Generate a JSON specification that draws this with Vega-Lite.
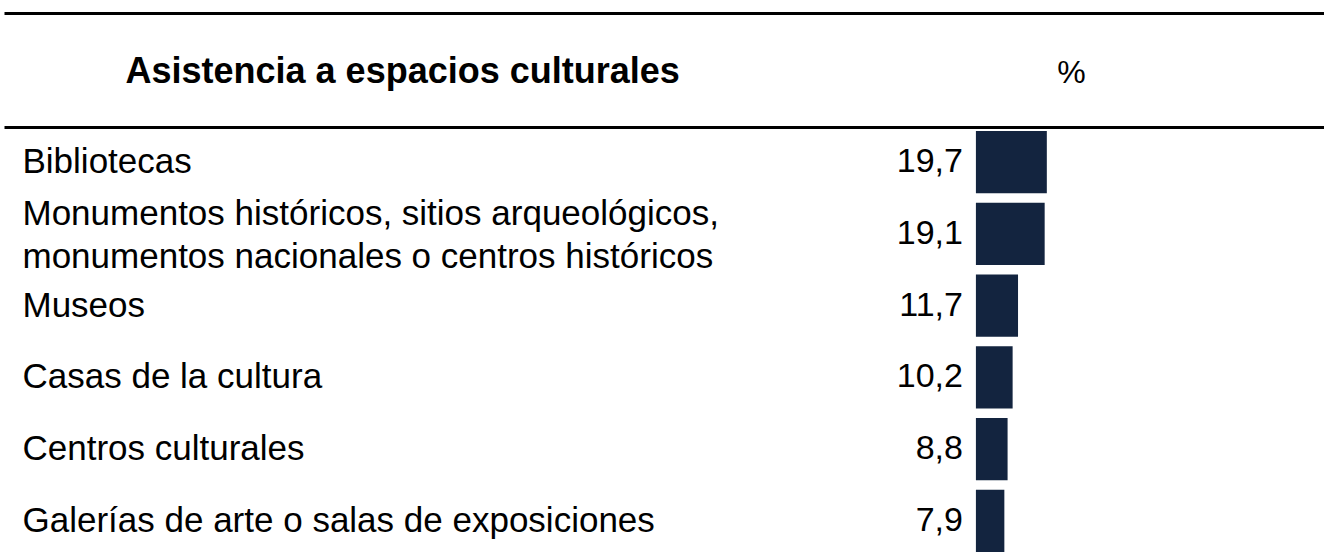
{
  "$schema": "https://vega.github.io/schema/vega-lite/v6.json",
  "width": 1320,
  "height": 425,
  "autosize": {"type": "none"},
  "padding": {"left": 4, "top": 127, "right": 0, "bottom": 0},
  "background": "white",
  "data": {
    "values": [
      {"cat": "Bibliotecas", "pct": 19.7},
      {"cat": "Monumentos históricos, sitios arqueológicos,\nmonumentos nacionales o centros históricos", "pct": 19.1},
      {"cat": "Museos", "pct": 11.7},
      {"cat": "Casas de la cultura", "pct": 10.2},
      {"cat": "Centros culturales", "pct": 8.8},
      {"cat": "Galerías de arte o salas de exposiciones", "pct": 7.9}
    ]
  },
  "layer": [
    {
      "mark": {"type": "bar", "color": "#13243f"},
      "encoding": {
        "y": {
          "field": "cat",
          "type": "nominal",
          "sort": null,
          "scale": {"paddingInner": 0.133, "paddingOuter": 0.028, "align": 1},
          "axis": {
            "title": null,
            "domain": false,
            "ticks": false,
            "tickSize": 0,
            "grid": false,
            "labelAlign": "left",
            "labelBaseline": "middle",
            "labelPadding": -18,
            "labelFont": "Liberation Sans",
            "labelFontSize": 35,
            "labelColor": "black",
            "labelLimit": 2000,
            "labelLineHeight": 43,
            "labelOverlap": false,
            "labelBound": false,
            "labelOffset": {"condition": {"test": "indexof(datum.value, '\\n') >= 0", "value": -20}, "value": 0},
            "labelExpr": "split(datum.label, '\\n')"
          }
        },
        "x": {
          "field": "pct",
          "type": "quantitative",
          "scale": {"domain": [-270, 96.7], "nice": false},
          "axis": {
            "orient": "top",
            "offset": 114,
            "labels": false,
            "ticks": false,
            "grid": false,
            "domain": true,
            "domainColor": "black",
            "domainWidth": 3,
            "title": "Asistencia a espacios culturales",
            "titleFont": "Liberation Sans",
            "titleFontSize": 36,
            "titleFontWeight": "bold",
            "titleColor": "black",
            "titleX": 121,
            "titleY": 69,
            "titleAlign": "left",
            "titleBaseline": "alphabetic",
            "titleAngle": 0
          }
        }
      }
    },
    {
      "mark": {"type": "text", "align": "right", "baseline": "middle", "dx": -13, "fontSize": 34, "font": "Liberation Sans", "color": "black"},
      "encoding": {
        "y": {"field": "cat", "type": "nominal", "sort": null},
        "x": {
          "datum": 0,
          "type": "quantitative",
          "scale": {"domain": [-270, 96.7], "nice": false},
          "axis": {
            "orient": "top",
            "labels": false,
            "ticks": false,
            "grid": false,
            "domain": true,
            "domainColor": "black",
            "domainWidth": 3,
            "title": "%",
            "titleFont": "Liberation Sans",
            "titleFontSize": 32,
            "titleFontWeight": "normal",
            "titleColor": "black",
            "titleX": 1067,
            "titleY": -45,
            "titleAlign": "center",
            "titleBaseline": "alphabetic",
            "titleAngle": 0
          }
        },
        "text": {"field": "pct", "type": "quantitative", "format": ".1f"}
      }
    }
  ],
  "resolve": {"scale": {"x": "independent"}, "axis": {"x": "independent"}},
  "config": {
    "view": {"stroke": null},
    "locale": {
      "number": {"decimal": ",", "thousands": ".", "grouping": [3], "currency": ["", " €"]}
    }
  }
}
